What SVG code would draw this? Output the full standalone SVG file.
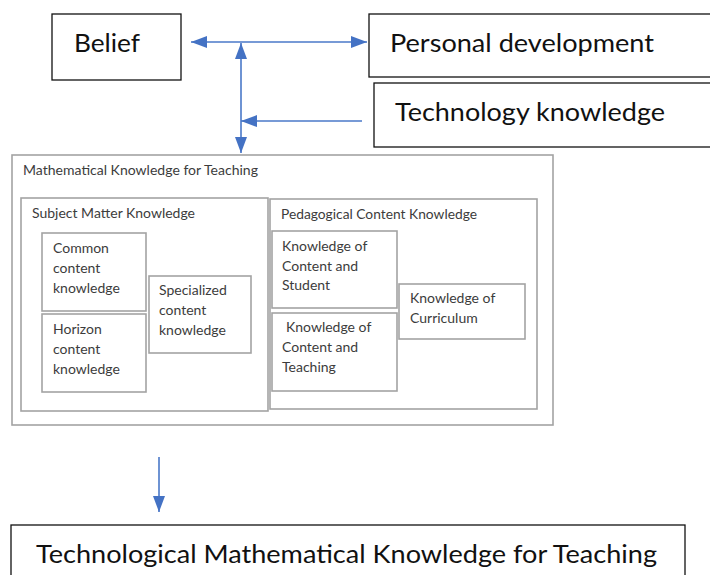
<svg xmlns="http://www.w3.org/2000/svg" width="710" height="575" viewBox="0 0 710 575">
<style>
.big{font-family:Lato,"Liberation Sans",sans-serif;font-size:24.5px;fill:#111}
.sm{font-family:Lato,"Liberation Sans",sans-serif;font-size:14px;fill:#3c3c3c}
.bk{fill:#fff;stroke:#111;stroke-width:1.3}
.gr{fill:#fff;stroke:#a3a3a3;stroke-width:1.6}
.con{fill:none;stroke:#4a78c8;stroke-width:1.6}
</style>
<defs>
<marker id="ah" viewBox="0 0 16 12" refX="16" refY="6" markerWidth="16" markerHeight="12" markerUnits="userSpaceOnUse" orient="auto-start-reverse">
<path d="M0,0 L16,6 L0,12 z" fill="#4472c4"/>
</marker>
</defs>
<rect width="710" height="575" fill="#fff"/>
<g id="belief">
<rect class="bk" x="52" y="14" width="129" height="66"/>
<text class="big" x="74" y="52" textLength="66" lengthAdjust="spacingAndGlyphs">Belief</text>
</g>
<g id="personal">
<rect class="bk" x="369" y="14" width="350" height="63"/>
<text class="big" x="390" y="52" textLength="264" lengthAdjust="spacingAndGlyphs">Personal development</text>
</g>
<g id="technology">
<rect class="bk" x="374" y="83" width="345" height="64"/>
<text class="big" x="395" y="121" textLength="270" lengthAdjust="spacingAndGlyphs">Technology knowledge</text>
</g>
<g id="mkt">
<rect class="gr" x="12" y="155" width="541" height="270"/>
<text class="sm" x="23" y="175" textLength="235" lengthAdjust="spacingAndGlyphs">Mathematical Knowledge for Teaching</text>
</g>
<g id="smk">
<rect class="gr" x="21" y="198" width="247" height="213"/>
<text class="sm" x="32" y="218" textLength="163" lengthAdjust="spacingAndGlyphs">Subject Matter Knowledge</text>
</g>
<g id="cck">
<rect class="gr" x="42" y="233" width="104" height="78"/>
<text class="sm" x="53" y="253">Common</text>
<text class="sm" x="53" y="273">content</text>
<text class="sm" x="53" y="293">knowledge</text>
</g>
<g id="hck">
<rect class="gr" x="42" y="314" width="104" height="78"/>
<text class="sm" x="53" y="334">Horizon</text>
<text class="sm" x="53" y="354">content</text>
<text class="sm" x="53" y="374">knowledge</text>
</g>
<g id="sck">
<rect class="gr" x="149" y="276" width="102" height="77"/>
<text class="sm" x="159" y="295">Specialized</text>
<text class="sm" x="159" y="315">content</text>
<text class="sm" x="159" y="335">knowledge</text>
</g>
<g id="pck">
<rect class="gr" x="270" y="199" width="267" height="210"/>
<text class="sm" x="281" y="219" textLength="196" lengthAdjust="spacingAndGlyphs">Pedagogical Content Knowledge</text>
</g>
<g id="kcs">
<rect class="gr" x="272" y="231" width="125" height="77"/>
<text class="sm" x="282" y="251">Knowledge of</text>
<text class="sm" x="282" y="271">Content and</text>
<text class="sm" x="282" y="290">Student</text>
</g>
<g id="kct">
<rect class="gr" x="272" y="313" width="125" height="78"/>
<text class="sm" x="286" y="332">Knowledge of</text>
<text class="sm" x="282" y="352">Content and</text>
<text class="sm" x="282" y="372">Teaching</text>
</g>
<g id="koc">
<rect class="gr" x="399" y="284" width="126" height="55"/>
<text class="sm" x="410" y="303">Knowledge of</text>
<text class="sm" x="410" y="323">Curriculum</text>
</g>
<g id="tmkt">
<rect class="bk" x="11" y="525" width="674" height="60"/>
<text class="big" x="36" y="563" textLength="621" lengthAdjust="spacingAndGlyphs">Technological Mathematical Knowledge for Teaching</text>
</g>
<g id="connectors">
<path class="con" d="M191,42 L367,42" marker-start="url(#ah)" marker-end="url(#ah)"/>
<path class="con" d="M241,43 L241,153" marker-start="url(#ah)" marker-end="url(#ah)"/>
<path class="con" d="M362,121 L241,121" marker-end="url(#ah)"/>
<path class="con" d="M159,457 L159,512" marker-end="url(#ah)"/>
</g>
</svg>
